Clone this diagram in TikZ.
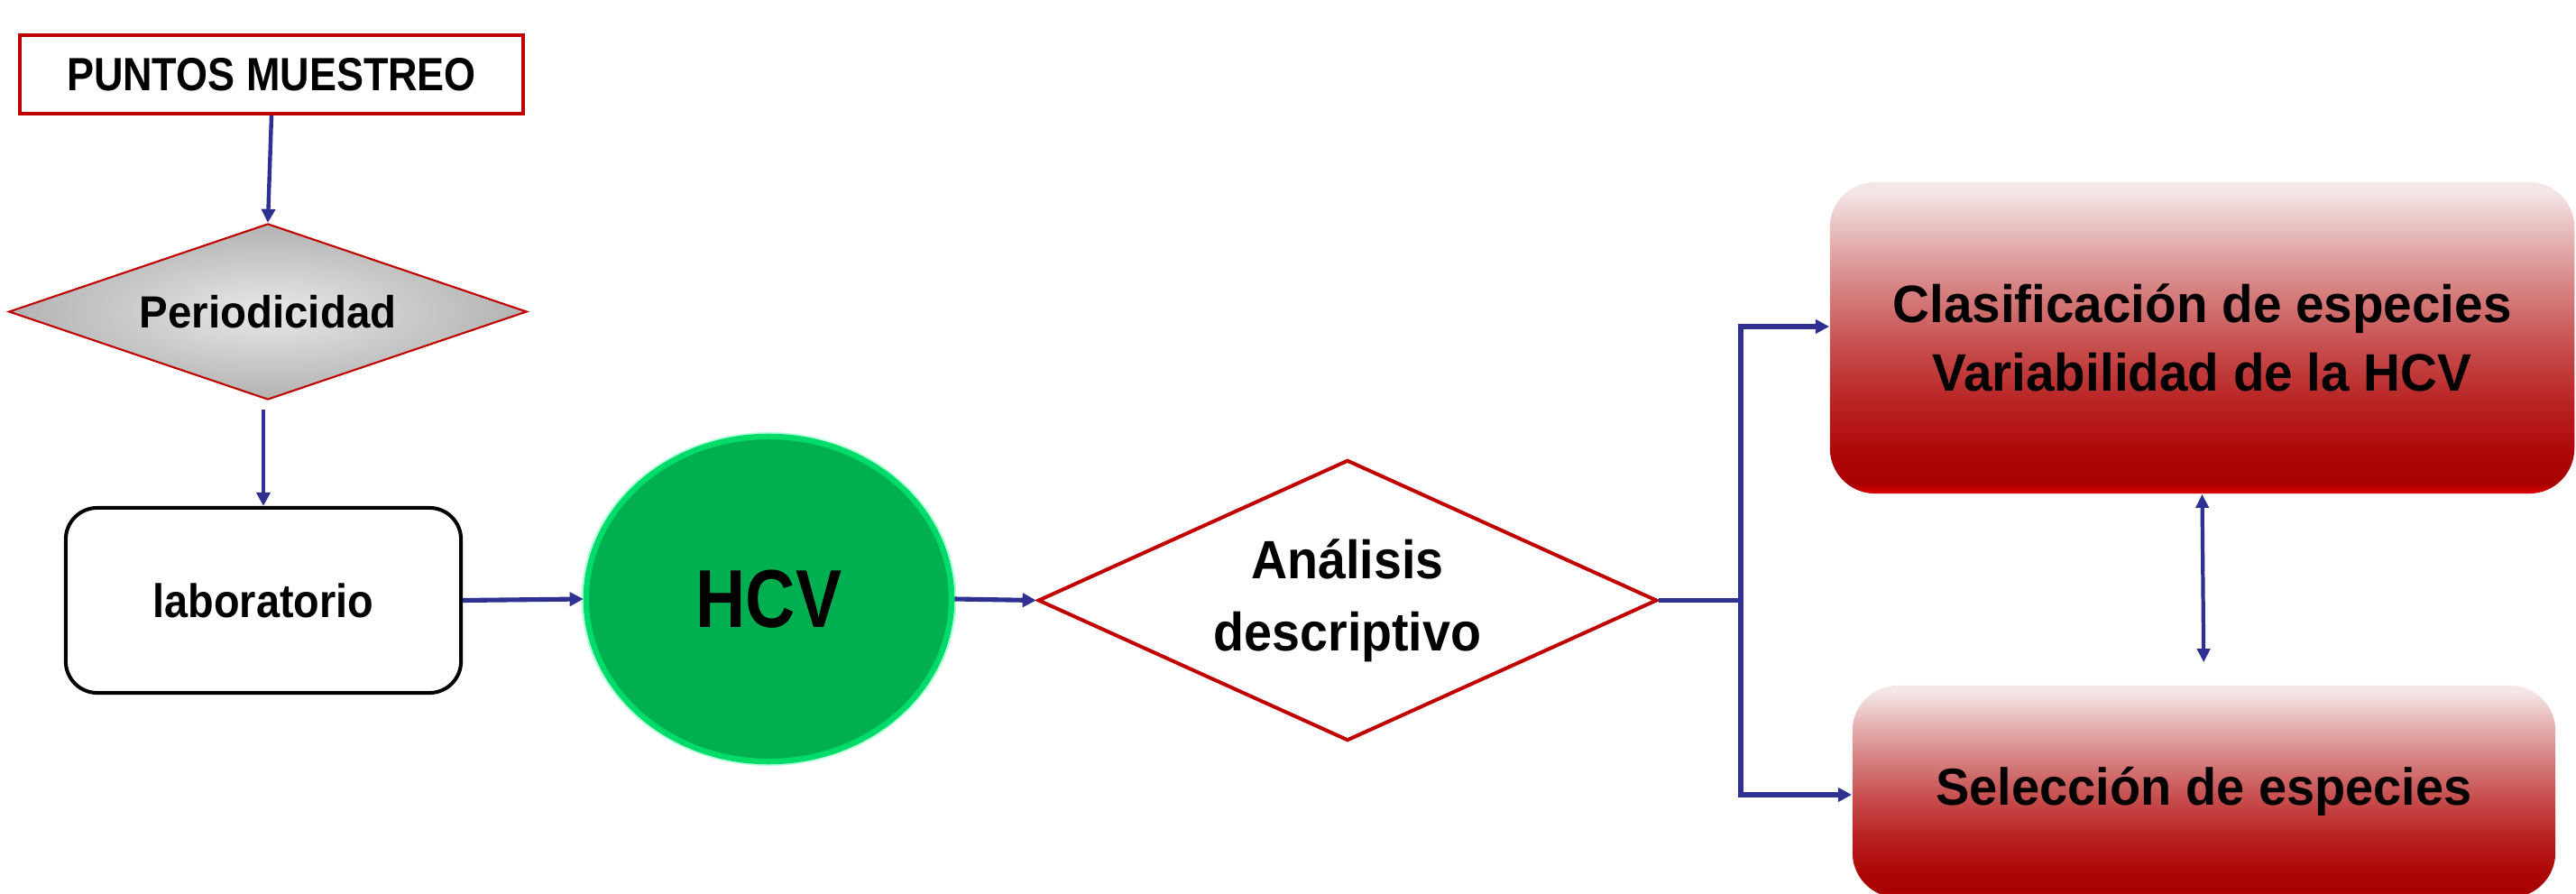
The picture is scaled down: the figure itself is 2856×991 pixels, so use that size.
\documentclass[tikz,border=0pt]{standalone}
\usepackage{fontspec}
\setmainfont{Liberation Sans}
\newfontfamily\fPM{Liberation Sans}[FakeStretch=0.87]
\newfontfamily\fHCV{Liberation Sans}[FakeStretch=0.84]
\newfontfamily\fPER{Liberation Sans}[FakeStretch=0.95]
\newfontfamily\fLAB{Liberation Sans}[FakeStretch=0.90]
\newfontfamily\fANA{Liberation Sans}[FakeStretch=0.93]
\newfontfamily\fRED{Liberation Sans}[FakeStretch=0.97]
\usetikzlibrary{shapes.geometric,arrows.meta,calc}
\definecolor{navy}{HTML}{2E3192}
\definecolor{bordred}{HTML}{C00000}
\definecolor{hcvgreen}{HTML}{00B050}
\definecolor{glowgreen}{HTML}{00FF80}
\definecolor{rA}{HTML}{E40000}
\definecolor{rB}{HTML}{A80000}
\definecolor{rC}{HTML}{AE0606}
\definecolor{rD}{HTML}{B82020}
\definecolor{rE}{HTML}{C85050}
\definecolor{rF}{HTML}{D88888}
\definecolor{rG}{HTML}{E6B4B4}
\definecolor{rH}{HTML}{F4E6E6}
\pgfdeclareverticalshading{redgrad}{100bp}{color(0bp)=(rA); color(25bp)=(rA); color(26.5bp)=(rB); color(31bp)=(rC); color(39bp)=(rD); color(49bp)=(rE); color(59bp)=(rF); color(66bp)=(rG); color(73.5bp)=(rH); color(100bp)=(rH)}
\tikzset{
  conn/.style={draw=navy, line width=1.45pt, -{Triangle[length=4.3pt,width=4.3pt]}},
  thinconn/.style={draw=navy, line width=1.25pt, -{Triangle[length=4.3pt,width=4.3pt]}},
  dblconn/.style={draw=navy, line width=1.2pt, {Triangle[length=4.3pt,width=4pt]}-{Triangle[length=4.3pt,width=4pt]}},
  redbox/.style={rectangle, rounded corners=0.5cm, shading=redgrad, align=center, text=black, inner sep=0pt},
}
\begin{document}
\begin{tikzpicture}[x=0.01cm, y=-0.01cm]
\useasboundingbox (0,0) rectangle (2856,991);
\clip (0,0) rectangle (2856,991);

% PUNTOS MUESTREO
\node[draw=bordred, line width=1.15pt, fill=white, minimum width=5.58cm, minimum height=0.87cm, inner sep=0pt,
      font=\fPM\fontsize{14.7}{17}\selectfont\bfseries] (pm) at (301,82.5) {PUNTOS MUESTREO};

% Periodicidad
\node[diamond, draw=bordred, line width=0.6pt, inner color=black!9, outer color=black!30,
      minimum width=5.74cm, minimum height=1.95cm, inner sep=0pt, aspect=3,
      font=\fPER\fontsize{14.2}{17}\selectfont\bfseries] (per) at (297,345.5) {Periodicidad};

% laboratorio
\node[draw=black, line width=1.15pt, rounded corners=0.35cm, fill=white, minimum width=4.38cm, minimum height=2.05cm,
      inner sep=0pt, font=\fLAB\fontsize{14.8}{17}\selectfont\bfseries] (lab) at (292,665.5) {laboratorio};

% HCV glow + ellipse
\fill[glowgreen, opacity=0.3] (852.5,664) ellipse [x radius=208, y radius=185];
\node[ellipse, fill=hcvgreen, draw=glowgreen!55!hcvgreen, line width=1.8pt, minimum width=4.05cm, minimum height=3.6cm,
      inner sep=0pt, font=\fHCV\fontsize{25.9}{28}\selectfont\bfseries] (hcv) at (852.5,664) {HCV};

% Analisis descriptivo
\node[diamond, draw=bordred, line width=1.15pt, fill=white, minimum width=6.86cm, minimum height=3.11cm,
      inner sep=0pt, aspect=2.2, align=center,
      font=\fANA\fontsize{17}{22.8}\selectfont\bfseries] (ana) at (1494,665.5) {Análisis\\descriptivo};

% Red boxes
\node[redbox, minimum width=8.25cm, minimum height=3.45cm, font=\fRED\fontsize{16.6}{21.4}\selectfont\bfseries]
  (cls) at (2441.5,374.5) {Clasificación de especies\\Variabilidad de la HCV};
\node[redbox, minimum width=7.79cm, minimum height=2.35cm, font=\fRED\fontsize{16.4}{20}\selectfont\bfseries]
  (sel) at (2443.5,877.5) {Selección de especies};

% Connectors
\draw[thinconn] (pm.south) -- (per.north);
\draw[thinconn, shorten <=0.1cm] (per.south -| lab.north) -- (lab.north);
\draw[conn] (lab.east) -- (hcv.west);
\draw[conn] (hcv.east) -- (ana.west);
\coordinate (jn) at (1930,665.5);
\draw[conn] (ana.east) -- (jn) |- ([yshift=0.125cm]cls.west);
\draw[conn] (jn) |- ([yshift=-0.035cm]sel.west);
\draw[dblconn, shorten >=0.25cm] (cls.south) -- (sel.north);
\end{tikzpicture}
\end{document}
